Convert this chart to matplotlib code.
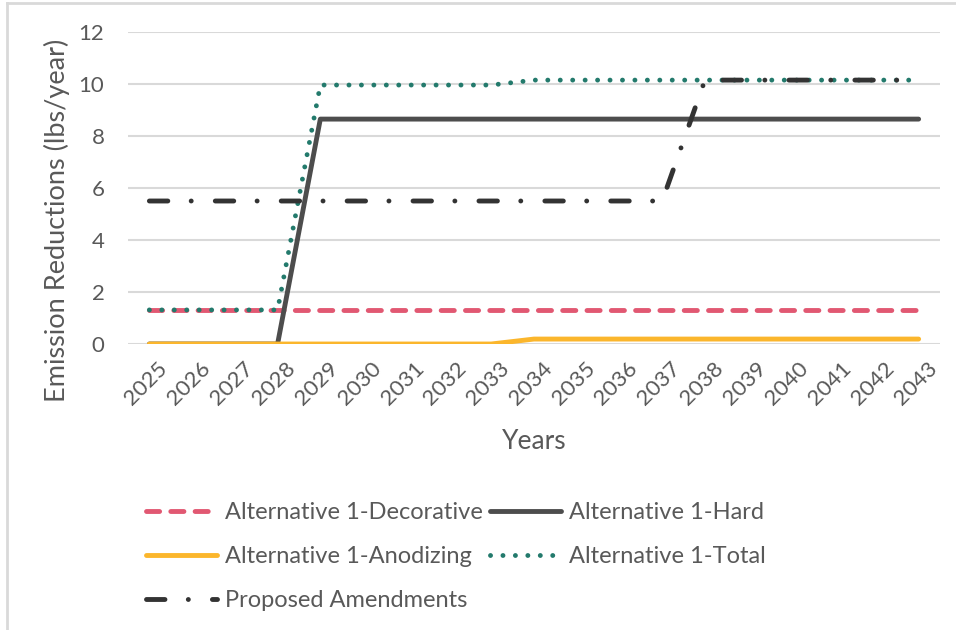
import matplotlib
matplotlib.use("Agg")
import matplotlib.pyplot as plt
from matplotlib.lines import Line2D
from matplotlib.transforms import ScaledTranslation

plt.rcParams['font.family'] = ['Lato', 'DejaVu Sans']

years = [str(y) for y in range(2025, 2044)]
decorative = [1.31] * 19
hard = [0, 0, 0, 0] + [8.65] * 15
anodizing = [0] * 9 + [0.19] * 10
total = [1.31] * 4 + [9.96] * 5 + [10.15] * 10
proposed = [5.5] * 13 + [10.15] * 6

text_c = '#595959'
grid_c = '#D9D9D9'

fig = plt.figure(figsize=(9.56, 6.3), dpi=100)
ax = fig.add_axes([128/956, 1-344/630, (940-128)/956, (344-32)/630])

x = list(range(len(years)))
lw = 3.5
l_dec, = ax.plot(x, decorative, color='#E15872', lw=lw, dash_capstyle='round',
                 dashes=(2.7, 2.3), label='Alternative 1-Decorative')
l_hard, = ax.plot(x, hard, color='#4D4D4D', lw=lw, solid_capstyle='round',
                  label='Alternative 1-Hard')
l_ano, = ax.plot(x, anodizing, color='#FBB62C', lw=lw, solid_capstyle='round',
                 label='Alternative 1-Anodizing')
l_tot, = ax.plot(x, total, color='#237A6C', lw=lw, dash_capstyle='round',
                 dashes=(0.01, 2.55), label='Alternative 1-Total')
l_prop, = ax.plot(x, proposed, color='#333333', lw=lw, dash_capstyle='round',
                  dashes=(3.8, 4.8, 0.01, 4.95), label='Proposed Amendments')

ax.set_xlim(-0.5, len(years) - 0.5)
ax.set_ylim(0, 12)
ax.set_yticks(range(0, 13, 2))
ax.set_xticks(x)
ax.set_xticklabels(years, rotation=45, ha='right', va='top', rotation_mode='anchor')
ax.tick_params(axis='both', length=0, labelsize=16, colors=text_c)
ax.tick_params(axis='y', pad=17)
ax.tick_params(axis='x', pad=10)
for lab in ax.get_xticklabels():
    lab.set_transform(lab.get_transform() + ScaledTranslation(8/100, 0, fig.dpi_scale_trans))
for s in ax.spines.values():
    s.set_visible(False)
ax.grid(axis='y', color=grid_c, lw=1.5)
ax.set_axisbelow(True)

ax.set_ylabel('Emission Reductions (lbs/year)', fontsize=19.5, color=text_c)
ax.yaxis.set_label_coords((70-128)/812, (344-220)/312)
ax.set_xlabel('Years', fontsize=19, color=text_c)
ax.xaxis.set_label_coords(0.5, (344-429)/312)

leg = fig.legend(handles=[l_dec, l_ano, l_prop, l_hard, l_tot], ncol=2,
                 loc='upper left', bbox_to_anchor=(146/956, 1-502/630),
                 frameon=False, fontsize=17, handlelength=3.0, handletextpad=0.35,
                 columnspacing=0.3, labelspacing=0.98, borderpad=0, borderaxespad=0)
for t in leg.get_texts():
    t.set_color(text_c)

# outer border
fig.add_artist(Line2D([7/956, 7/956], [0, 1-3/630], color=grid_c, lw=2, transform=fig.transFigure))
fig.add_artist(Line2D([7/956, 1], [1-3/630, 1-3/630], color=grid_c, lw=2, transform=fig.transFigure))

fig.savefig('out.png', dpi=100)
